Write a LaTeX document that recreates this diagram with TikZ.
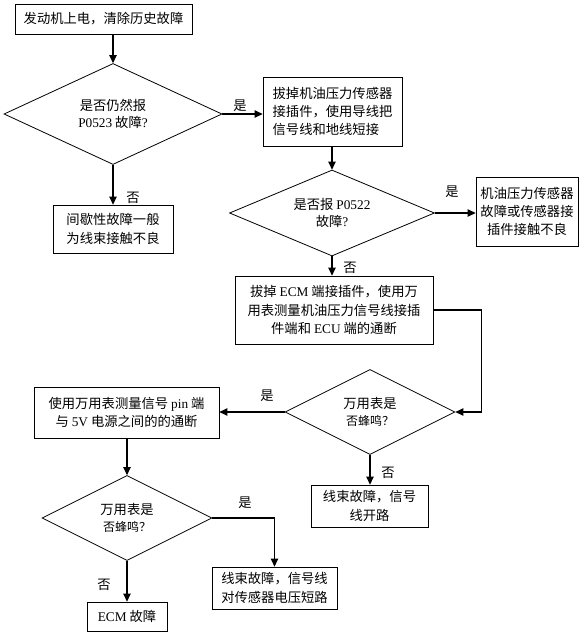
\documentclass[tikz,border=0pt]{standalone}
\usepackage{fontspec}
\setmainfont{Liberation Serif}
\newfontfamily\cjk{Noto Sans CJK SC}
\usetikzlibrary{arrows.meta, shapes.geometric}
\newcommand{\lat}[1]{{\rmfamily #1}}

\tikzset{
  base/.style={font=\cjk\fontsize{13.3}{18.3}\selectfont},
  box/.style={base, draw, line width=0.8pt, inner sep=2pt, align=center},
  decision/.style={font=\cjk\fontsize{13.3}{17}\selectfont, diamond, draw, line width=0.8pt,
    inner sep=0pt, aspect=2, align=center},
  flow/.style={-{Triangle[length=8pt,width=7.5pt]}, line width=1.1pt},
  tag/.style={base, inner sep=0pt}
}

\begin{document}
\begin{tikzpicture}[x=1pt, y=-1pt]
  \useasboundingbox (0,0) rectangle (581,632);
  % process boxes
  \node[box, minimum width=177pt, minimum height=30pt] (start) at (103.5,19) {发动机上电，清除历史故障};
  \node[box, align=left, minimum width=139pt, minimum height=69pt] (short) at (332.5,111.5)
    {拔掉机油压力传感器\\接插件，使用导线把\\信号线和地线短接};
  \node[box, align=left, minimum width=120pt, minimum height=48pt] (loose) at (113,229)
    {间歇性故障一般\\为线束接触不良};
  \node[box, minimum width=102pt, minimum height=69pt] (sensor) at (527,211.5)
    {机油压力传感器\\故障或传感器接\\插件接触不良};
  \node[box, minimum width=198pt, minimum height=68pt] (ecm) at (334,310)
    {拔掉 \lat{ECM} 端接插件，使用万\\用表测量机油压力信号线接插\\件端和 \lat{ECU} 端的通断};
  \node[box, minimum width=185pt, minimum height=51pt] (pin) at (126.5,412.5)
    {使用万用表测量信号 \lat{pin} 端\\与 \lat{5V} 电源之间的的通断};
  \node[box, minimum width=117pt, minimum height=42pt] (open) at (369.5,506)
    {线束故障，信号\\线开路};
  \node[box, minimum width=125pt, minimum height=42pt] (shortv) at (274.5,588)
    {线束故障，信号线\\对传感器电压短路};
  \node[box, align=left, minimum width=80pt, minimum height=29pt] (ecmfail) at (127,616.5)
    {\lat{ECM} 故障};
  % decisions
  \node[decision, minimum width=218pt, minimum height=101pt] (q1) at (113,114)
    {是否仍然报\\\lat{P0523} 故障\lat{?}};
  \node[decision, minimum width=205pt, minimum height=86pt] (q2) at (332,213)
    {是否报 \lat{P0522}\\故障\lat{?}};
  \node[decision, minimum width=170pt, minimum height=85pt] (q3) at (370,412)
    {万用表是\\{\fontsize{12}{14}\selectfont 否蜂鸣？}};
  \node[decision, minimum width=170pt, minimum height=85pt] (q4) at (127,518)
    {万用表是\\{\fontsize{12}{14}\selectfont 否蜂鸣？}};
  % connectors
  \draw[flow] (start.south -| q1.north) -- (q1.north);
  \draw[flow] (q1.east) -- (q1.east -| short.west);
  \draw[flow] (q1.south) -- (loose.north);
  \draw[flow] (short.south -| q2.north) -- (q2.north);
  \draw[flow] (q2.east) -- (q2.east -| sensor.west);
  \draw[flow] (q2.south) -- (q2.south |- ecm.north);
  \draw[flow] (ecm.east) -- ++(48,0) |- (q3.east);
  \draw[flow] (q3.west) -- (q3.west -| pin.east);
  \draw[flow] (q3.south) -- (q3.south |- open.north);
  \draw[flow] (pin.south -| q4.north) -- (q4.north);
  \draw[flow] (q4.east) -| (shortv.north);
  \draw[flow] (q4.south) -- (q4.south |- ecmfail.north);
  % yes / no labels
  \node[tag] (y1) at (240,106) {是};
  \node[tag] (n1) at (133,198) {否};
  \node[tag] (y2) at (452,192) {是};
  \node[tag] (n2) at (350,268) {否};
  \node[tag] (y3) at (267,396) {是};
  \node[tag] (n3) at (388,473) {否};
  \node[tag] (y4) at (245,503) {是};
  \node[tag] (n4) at (104,585) {否};
\end{tikzpicture}
\end{document}
